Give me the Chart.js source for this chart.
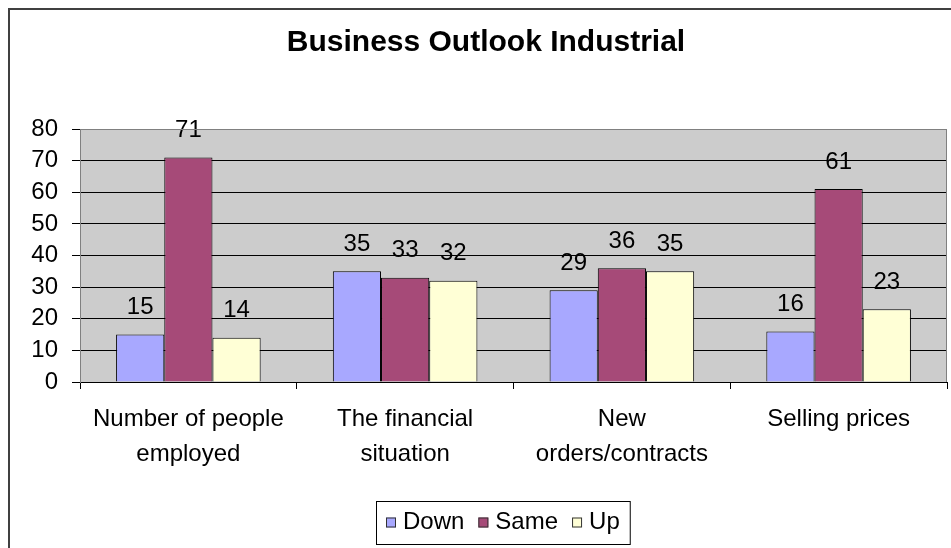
<!DOCTYPE html>
<html>
<head>
<meta charset="utf-8">
<script src="https://cdn.jsdelivr.net/npm/chart.js@4"></script>
<style>
html, body { margin: 0; padding: 0; background: #fff; }
#wrap { position: relative; width: 951px; height: 548px; }
</style>
</head>
<body>
<div id="wrap"><canvas id="canvas"></canvas></div>
<script>
const categories = [['Number of people', 'employed'], ['The financial', 'situation'], ['New', 'orders/contracts'], ['Selling prices']];
const down = [15, 35, 29, 16];
const same = [71, 33, 36, 61];
const up = [14, 32, 35, 23];
const seriesNames = ['Down', 'Same', 'Up'];
const yMin = 0, yMax = 80, yStep = 10;
const chartTitle = 'Business Outlook Industrial';

const FONT = "'Liberation Sans', Arial, sans-serif";

// white page, outer frame and grey plot background
const backdrop = {
  id: 'backdrop',
  beforeDraw(chart) {
    const { ctx, chartArea: a } = chart;
    ctx.save();
    ctx.fillStyle = '#fff';
    ctx.fillRect(0, 0, chart.width, chart.height);
    ctx.strokeStyle = '#404040';
    ctx.lineWidth = 2;
    ctx.strokeRect(9, 9, 2000, 2000);
    ctx.fillStyle = '#CCCCCC';
    ctx.fillRect(a.left, a.top, a.right - a.left, a.bottom - a.top);
    ctx.restore();
  },
  afterDraw(chart) {
    const { ctx, chartArea: a } = chart;
    ctx.save();
    ctx.strokeStyle = '#808080';
    ctx.lineWidth = 1;
    ctx.beginPath();
    ctx.moveTo(a.left, a.top + 0.5);
    ctx.lineTo(a.right - 0.5, a.top + 0.5);
    ctx.lineTo(a.right - 0.5, a.bottom);
    ctx.stroke();
    ctx.restore();
  }
};

// numbers above each bar
const valueLabels = {
  id: 'valueLabels',
  afterDatasetsDraw(chart) {
    const { ctx } = chart;
    ctx.save();
    ctx.font = '24px ' + FONT;
    ctx.fillStyle = '#000';
    ctx.textAlign = 'center';
    ctx.textBaseline = 'middle';
    chart.data.datasets.forEach((ds, i) => {
      chart.getDatasetMeta(i).data.forEach((bar, j) => {
        ctx.fillText(String(ds.data[j]), bar.x, bar.y - 27);
      });
    });
    ctx.restore();
  }
};

// title and boxed legend
const headerLegend = {
  id: 'headerLegend',
  afterDraw(chart) {
    const { ctx } = chart;
    ctx.save();
    ctx.fillStyle = '#000';
    ctx.font = 'bold 30px ' + FONT;
    ctx.textAlign = 'center';
    ctx.textBaseline = 'middle';
    ctx.fillText(chartTitle, 486, 43);

    ctx.font = '24px ' + FONT;
    ctx.textAlign = 'left';
    const sq = 10, gapIn = 7, gapOut = 14, pad = 10;
    const items = chart.data.datasets.map(ds => ({ label: ds.label, color: ds.backgroundColor, w: ctx.measureText(ds.label).width }));
    let total = pad * 2;
    items.forEach((it, i) => { total += sq + gapIn + it.w + (i < items.length - 1 ? gapOut : 0); });
    const bx = 376, by = 501, bh = 43;
    ctx.fillStyle = '#fff';
    ctx.fillRect(bx, by, total, bh);
    ctx.strokeStyle = '#000';
    ctx.lineWidth = 1;
    ctx.strokeRect(bx + 0.5, by + 0.5, total, bh);
    let x = bx + pad;
    const cy = by + bh / 2;
    items.forEach(it => {
      ctx.fillStyle = it.color;
      ctx.fillRect(x, cy - sq / 2, sq, sq);
      ctx.strokeStyle = '#333';
      ctx.strokeRect(x + 0.5, cy - sq / 2 + 0.5, sq - 1, sq - 1);
      x += sq + gapIn;
      ctx.fillStyle = '#000';
      ctx.fillText(it.label, x, cy);
      x += it.w + gapOut;
    });
    ctx.restore();
  }
};

const data = {
  labels: categories,
  datasets: [
    { label: seriesNames[0], data: down, backgroundColor: '#A8A8FF' },
    { label: seriesNames[1], data: same, backgroundColor: '#A64A78' },
    { label: seriesNames[2], data: up, backgroundColor: '#FFFFD6' }
  ].map(d => Object.assign(d, { borderColor: '#000', borderWidth: 1, barPercentage: 1, categoryPercentage: 0.667 }))
};

const config = {
  type: 'bar',
  data: data,
  options: {
    responsive: true,
    maintainAspectRatio: false,
    animation: false,
    devicePixelRatio: 1,
    layout: { padding: { top: 129, left: 0, right: 4, bottom: 0 } },
    plugins: {
      legend: { display: false },
      title: { display: false },
      tooltip: { enabled: false }
    },
    scales: {
      x: {
        grid: { drawOnChartArea: false, drawTicks: true, tickLength: 7, color: '#000', offset: true },
        border: { display: true, color: '#000' },
        ticks: { color: '#000', font: { family: FONT, size: 24, lineHeight: 35 / 24 }, padding: 13, maxRotation: 0, autoSkip: false },
        afterFit: s => { s.height = 166; }
      },
      y: {
        min: yMin,
        max: yMax,
        ticks: { stepSize: yStep, autoSkip: false, color: '#000', font: { family: FONT, size: 24, lineHeight: 1 }, padding: 14 },
        grid: {
          color: c => (c.tick && c.tick.value === yMax ? '#808080' : '#000'),
          tickColor: '#000',
          tickLength: 8
        },
        border: { display: true, color: '#808080' },
        afterFit: s => { s.width = 80; }
      }
    }
  },
  plugins: [backdrop, valueLabels, headerLegend]
};

const canvas = document.getElementById('canvas');
const chart = new Chart(canvas, config);
</script>
</body>
</html>
